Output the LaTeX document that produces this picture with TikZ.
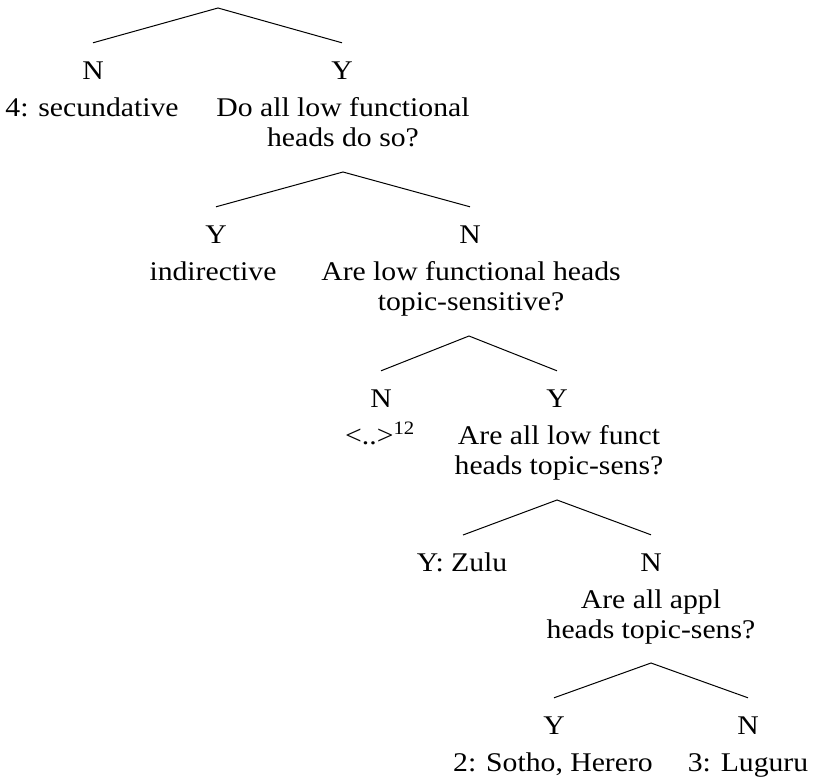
\documentclass[tikz,border=0pt]{standalone}
\usepackage{fontspec}
\setmainfont{Liberation Serif}[FakeStretch=1.1]
\begin{document}
\begin{tikzpicture}[x=1pt,y=-1pt,
  every node/.style={font=\fontsize{27}{30}\selectfont},
  branch/.style={line width=1pt},
  yn/.style={anchor=base, inner sep=0pt, inner ysep=18pt, text height=18pt, text depth=0pt},
  txt/.style={anchor=base, inner sep=0pt, align=center}]
\useasboundingbox (0,0) rectangle (813,776);
% tree 1
\coordinate (a1) at (218,8);
\node[yn] (n1) at (93,79) {N};
\node[yn] (y1) at (342,79) {Y};
\node[txt] (t1n) at (92,116) {4: secundative};
\node[txt] (t1y) at (343,146) {Do all low functional\\heads do so?};
\draw[branch] (n1.north) -- (a1) -- (y1.north);
% tree 2
\coordinate (a2) at (343,172);
\node[yn] (y2) at (216,243) {Y};
\node[yn] (n2) at (470,243) {N};
\node[txt] (t2y) at (213,280) {indirective};
\node[txt] (t2n) at (471,310) {Are low functional heads\\topic-sensitive?};
\draw[branch] (y2.north) -- (a2) -- (n2.north);
% tree 3
\coordinate (a3) at (469,336);
\node[yn] (n3) at (381,407) {N};
\node[yn] (y3) at (557,407) {Y};
\node[txt] (t3n) at (380,444) {<..>\textsuperscript{12}};
\node[txt] (t3y) at (559,474) {Are all low funct\\heads topic-sens?};
\draw[branch] (n3.north) -- (a3) -- (y3.north);
% tree 4
\coordinate (a4) at (557,500);
\node[txt] (y4) at (462,571) {Y: Zulu};
\node[yn] (n4) at (651,571) {N};
\node[txt] (t4n) at (651,638) {Are all appl\\heads topic-sens?};
\coordinate (y4top) at (463,535);
\draw[branch] (y4top) -- (a4) -- (n4.north);
% tree 5
\coordinate (a5) at (651,663);
\node[yn] (y5) at (554,734) {Y};
\node[yn] (n5) at (748,734) {N};
\node[txt] (t5y) at (553,771) {2: Sotho, Herero};
\node[txt] (t5n) at (748,771) {3: Luguru};
\draw[branch] (y5.north) -- (a5) -- (n5.north);
\end{tikzpicture}
\end{document}
